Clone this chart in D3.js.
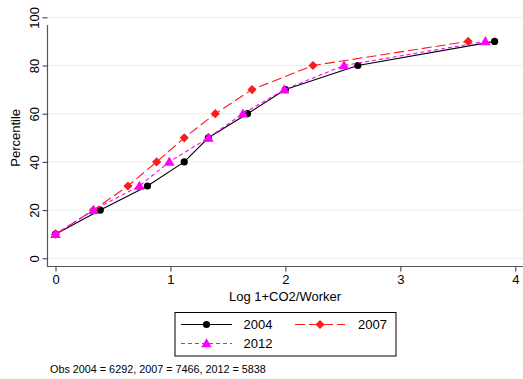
<!DOCTYPE html>
<html>
<head>
<meta charset="utf-8">
<script src="https://cdn.jsdelivr.net/npm/d3@7/dist/d3.min.js"></script>
<style>
  body { margin: 0; background: #fff; }
  svg { display: block; font-family: "Liberation Sans", Arial, Helvetica, sans-serif; }
</style>
</head>
<body>
<svg id="chart" width="523" height="379"></svg>
<script>
// Cumulative distribution of log(1 + CO2 per worker), by survey year
const percentiles = [10, 20, 30, 40, 50, 60, 70, 80, 90];
const x2004 = [0, 0.39, 0.80, 1.12, 1.33, 1.67, 2.00, 2.63, 3.82];
const x2007 = [0, 0.33, 0.63, 0.88, 1.12, 1.39, 1.71, 2.24, 3.59];
const x2012 = [0, 0.33, 0.73, 0.99, 1.33, 1.63, 1.99, 2.51, 3.74];
const xTicks = [0, 1, 2, 3, 4];
const yTicks = [0, 20, 40, 60, 80, 100];
const seriesNames = ["2004", "2007", "2012"];
const obsNote = "Obs 2004 = 6292, 2007 = 7466, 2012 = 5838";

const svg = d3.select("#chart");

const x = d3.scaleLinear().domain([0, 4]).range([55.5, 515.3]);
const y = d3.scaleLinear().domain([0, 100]).range([258.3, 17.3]);

const plotLeft = 47.5, plotRight = 523, plotBottom = 266.5, plotTop = 5;

// horizontal grid lines
svg.append("g").selectAll("line").data(yTicks).join("line")
  .attr("x1", plotLeft).attr("x2", plotRight)
  .attr("y1", d => y(d)).attr("y2", d => y(d))
  .attr("stroke", "#e6eeef").attr("stroke-width", 1);

// axes
const xAxis = svg.append("g")
  .attr("transform", `translate(0,${plotBottom})`)
  .call(d3.axisBottom(x).tickValues(xTicks).tickFormat(d3.format("d")).tickSize(5).tickSizeOuter(0));
const yAxis = svg.append("g")
  .attr("transform", `translate(${plotLeft},0)`)
  .call(d3.axisLeft(y).tickValues(yTicks).tickFormat(d3.format("d")).tickSize(5).tickSizeOuter(0));

[xAxis, yAxis].forEach(g => {
  g.select(".domain").remove();
  g.selectAll(".tick line").attr("stroke", "#333");
  g.selectAll(".tick text").attr("fill", "#000").attr("font-size", 13)
    .attr("font-family", "Liberation Sans, Arial, sans-serif");
});
// vertical-axis labels are rotated to read bottom-to-top
yAxis.selectAll(".tick text").each(function() {
  d3.select(this).attr("transform", "rotate(-90) translate(0,-9)")
    .attr("text-anchor", "middle").attr("x", 0).attr("y", 0).attr("dy", "0");
});

// axis lines
svg.append("line").attr("x1", plotLeft).attr("x2", plotLeft)
  .attr("y1", plotTop + 20).attr("y2", plotBottom + 0.5)
  .attr("stroke", "#555").attr("stroke-width", 1.2);
svg.append("line").attr("x1", plotLeft - 0.5).attr("x2", plotRight)
  .attr("y1", plotBottom).attr("y2", plotBottom)
  .attr("stroke", "#555").attr("stroke-width", 1.2);

// axis titles
svg.append("text").attr("x", 285).attr("y", 301).attr("text-anchor", "middle")
  .attr("font-size", 13).text("Log 1+CO2/Worker");
svg.append("text").attr("transform", `translate(20,${y(50)}) rotate(-90)`)
  .attr("text-anchor", "middle").attr("font-size", 13).text("Percentile");

const tri = d3.symbol().type(d3.symbolTriangle).size(48);

const series = [
  { name: seriesNames[0], xs: x2004, color: "#000", dash: null, width: 1.1, marker: "circle" },
  { name: seriesNames[1], xs: x2007, color: "#ff1a1a", dash: "10,4", width: 1.1, marker: "diamond" },
  { name: seriesNames[2], xs: x2012, color: "#ff00ff", dash: "4,3", width: 1.1, marker: "triangle" }
];

function drawMarker(g, kind, color, cx, cy) {
  if (kind === "circle") {
    g.append("circle").attr("cx", cx).attr("cy", cy).attr("r", 3.6).attr("fill", color);
  } else if (kind === "diamond") {
    g.append("path").attr("d", d3.symbol().type(d3.symbolSquare).size(42)())
      .attr("transform", `translate(${cx},${cy}) rotate(45)`).attr("fill", color);
  } else {
    g.append("path").attr("d", tri()).attr("transform", `translate(${cx},${cy + 0.8})`).attr("fill", color);
  }
}

const line = d3.line().x(d => x(d[0])).y(d => y(d[1]));

series.forEach(s => {
  const pts = s.xs.map((v, i) => [v, percentiles[i]]);
  const g = svg.append("g");
  g.append("path").datum(pts).attr("d", line).attr("fill", "none")
    .attr("stroke", s.color).attr("stroke-width", s.width)
    .attr("stroke-dasharray", s.dash);
  pts.forEach(p => drawMarker(g, s.marker, s.color, x(p[0]), y(p[1])));
});

// legend
const lg = svg.append("g");
lg.append("rect").attr("x", 175).attr("y", 312.5).attr("width", 221).attr("height", 43.5)
  .attr("fill", "#fff").attr("stroke", "#000").attr("stroke-width", 1);
const legendPos = [
  { lx1: 181, lx2: 232, mx: 206.5, tx: 243.5, ty: 324.5 },
  { lx1: 295, lx2: 345, mx: 320, tx: 358, ty: 324.5 },
  { lx1: 181, lx2: 232, mx: 206.5, tx: 243.5, ty: 343.5 }
];
series.forEach((s, i) => {
  const p = legendPos[i];
  lg.append("line").attr("x1", p.lx1).attr("x2", p.lx2).attr("y1", p.ty).attr("y2", p.ty)
    .attr("stroke", s.color).attr("stroke-width", s.width).attr("stroke-dasharray", s.dash);
  drawMarker(lg, s.marker, s.color, p.mx, p.ty);
  lg.append("text").attr("x", p.tx).attr("y", p.ty).attr("dy", "0.36em")
    .attr("font-size", 13).text(s.name);
});

svg.append("text").attr("x", 50).attr("y", 372.5).attr("font-size", 10.8).text(obsNote);
</script>
</body>
</html>
